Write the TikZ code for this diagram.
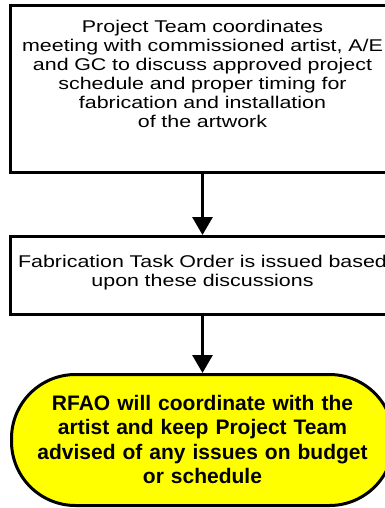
\documentclass[tikz,border=0pt]{standalone}
\usepackage{fontspec}
\setmainfont{Liberation Sans}
\newfontfamily\widefont[FakeStretch=1.26]{Liberation Sans}
\usetikzlibrary{arrows.meta}
\definecolor{endyellow}{RGB}{255,255,0}
\tikzset{
    taskbox/.style={draw, line width=3pt, inner sep=0pt, align=center,
        font=\widefont\fontsize{17pt}{19pt}\selectfont},
    endbox/.style={draw, line width=3pt, fill=endyellow, rounded corners=64pt,
        inner sep=0pt, align=center,
        font=\bfseries\fontsize{21pt}{24.5pt}\selectfont},
    flowarrow/.style={line width=3pt, -{Triangle[length=18pt,width=20pt]}}
}
\begin{document}
\begin{tikzpicture}[x=1pt, y=1pt]
\useasboundingbox (0,0) rectangle (385,-508);

% === Meeting box ===
\node[taskbox, anchor=north, text width=384pt, text height=27pt, text depth=139.5pt]
    (meeting) at (202.5,-4) {Project Team coordinates\\
    meeting with commissioned artist, A/E\\
    and GC to discuss approved project\\
    schedule and proper timing for\\
    fabrication and installation\\
    of the artwork};

% === Task order box ===
\node[taskbox, anchor=north, text width=384pt, text height=31pt, text depth=47pt]
    (taskorder) at (202.5,-235) {Fabrication Task Order is issued based\\
    upon these discussions};

% === End terminal ===
\node[endbox, anchor=north, text width=382pt, text height=35.5pt, text depth=95.5pt]
    (rfao) at (202.5,-373) {RFAO will coordinate with the\\
    artist and keep Project Team\\
    advised of any issues on budget\\
    or schedule};

% arrows
\draw[flowarrow] (meeting) -- (taskorder);
\draw[flowarrow] (taskorder) -- (rfao);

\end{tikzpicture}
\end{document}
